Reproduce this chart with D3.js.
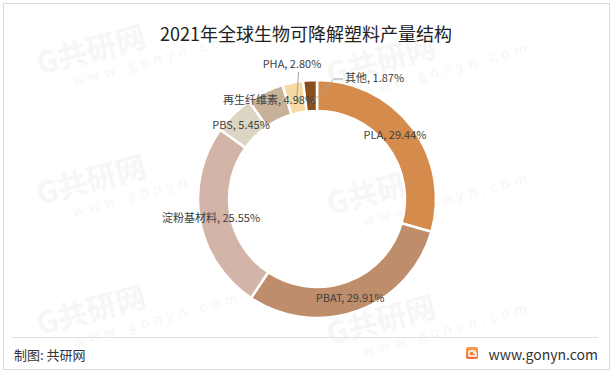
<!DOCTYPE html>
<html><head><meta charset="utf-8">
<script src="https://cdn.jsdelivr.net/npm/d3@7"></script>
<style>
html,body{margin:0;padding:0;background:#fff;}
svg text{font-family:"Noto Sans CJK SC","Noto Sans",sans-serif;}
</style></head>
<body>
<svg id="c" width="613" height="373"></svg>
<script>
const categories = ["PLA","PBAT","淀粉基材料","PBS","再生纤维素","PHA","其他"];
const values = [29.44, 29.91, 25.55, 5.45, 4.98, 2.80, 1.87];
const colors = ["#D48B4B","#BE8D6C","#D2B4A9","#DDD5C3","#C7B198","#F7D9A2","#8A4F1E"];
const title = "2021年全球生物可降解塑料产量结构";

const svg = d3.select("#c");
// outer border
svg.append("rect").attr("x",3.5).attr("y",3.5).attr("width",606).attr("height",366)
  .attr("fill","#fff").attr("stroke","#d9d9d9").attr("stroke-width",1);

// very faint watermarks, kept inside the frame
const wm = svg.append("g").attr("fill","#f6f6f6").attr("font-weight","bold");
[[40,75],[330,85],[40,205],[330,215],[40,335],[330,345]].forEach(([x,y])=>{
  const g = wm.append("g").attr("transform",`translate(${x},${y}) rotate(-15)`);
  g.append("text").attr("font-size",30).attr("x",0).attr("y",0).text("G共研网");
  g.append("text").attr("font-size",14).attr("x",30).attr("y",20).attr("letter-spacing",5)
   .attr("font-weight","normal").text("www.gonyn.com");
});

// title
svg.append("text").attr("x",306).attr("y",41).attr("text-anchor","middle")
  .attr("font-size",18).attr("fill","#222").text(title);

const cx = 317, cy = 199, R = 119, r = 88;
const data = categories.map((c,i)=>({name:c, value:values[i], color:colors[i]}));
const pie = d3.pie().value(d=>d.value).sort(null);
const arcs = pie(data);
const arc = d3.arc().innerRadius(r).outerRadius(R);
const g = svg.append("g").attr("transform",`translate(${cx},${cy})`);
g.selectAll("path").data(arcs).join("path")
  .attr("d",arc).attr("fill",d=>d.data.color)
  .attr("stroke","#fff").attr("stroke-width",2.5);

// label positions (offsets from centre)
const labelPos = {
  "PLA":[78,-64,"middle"],
  "PBAT":[33,99,"middle"],
  "淀粉基材料":[-106,19,"middle"],
  "PBS":[-76,-74,"middle"],
  "再生纤维素":[-48,-99,"middle"],
  "PHA":[-25,-135,"middle"],
  "其他":[28,-121,"start"]
};
const fmt = d=>`${d.name}, ${d.value.toFixed(2)}%`;
const lineG = svg.append("g").attr("stroke","#a6a6a6").attr("fill","none").attr("stroke-width",1);
arcs.forEach(a=>{
  if(a.data.name==="PHA"){
    const m = d3.arc().innerRadius(r+12).outerRadius(r+12).centroid(a);
    lineG.append("polyline").attr("points",
      `${cx+m[0]},${cy+m[1]} ${cx+m[0]+2},${cy-127}`);
  }
  if(a.data.name==="其他"){
    const m = d3.arc().innerRadius(r+8).outerRadius(r+8).centroid(a);
    lineG.append("polyline").attr("points",
      `${cx+m[0]},${cy+m[1]} ${cx+17},${cy-120} ${cx+26},${cy-120}`);
  }
});
const lg = svg.append("g");
data.forEach(d=>{
  const p = labelPos[d.name];
  lg.append("text").attr("x",cx+p[0]).attr("y",cy+p[1]+4)
    .attr("text-anchor",p[2]).attr("font-size",11).attr("fill","#404040").text(fmt(d));
});

// footer
svg.append("line").attr("x1",12).attr("x2",598).attr("y1",337.5).attr("y2",337.5)
  .attr("stroke","#e0e0e0");
svg.append("text").attr("x",14).attr("y",360).attr("font-size",13).attr("fill","#333").text("制图: 共研网");
const grad = svg.append("defs").append("linearGradient").attr("id","lg").attr("x1",0).attr("y1",0).attr("x2",0).attr("y2",1);
grad.append("stop").attr("offset","0").attr("stop-color","#f7a14a");
grad.append("stop").attr("offset","1").attr("stop-color","#ef6a3a");
svg.append("rect").attr("x",466).attr("y",347).attr("width",12).attr("height",12).attr("rx",2).attr("fill","url(#lg)");
svg.append("path").attr("d","M469,351 h7 M469,351 v5 h7 v-3 h-3").attr("stroke","#fff").attr("stroke-width",1.5).attr("fill","none");
svg.append("text").attr("x",598).attr("y",360).attr("text-anchor","end").attr("font-size",14).attr("fill","#333").text("www.gonyn.com");
</script>
</body></html>
